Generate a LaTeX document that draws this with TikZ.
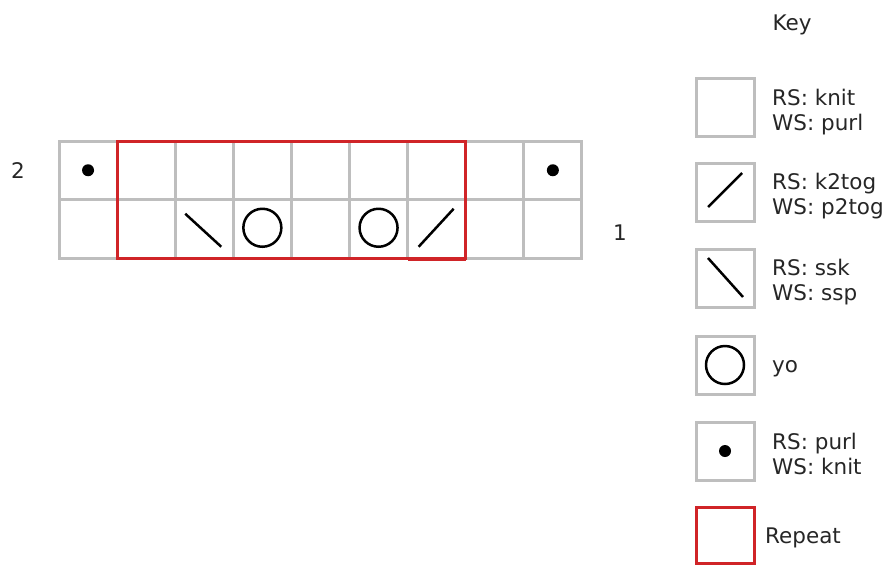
\documentclass[tikz,border=0pt]{standalone}
\usepackage{fontspec}
\setmainfont{DejaVu Sans}
\definecolor{gridgray}{RGB}{190,190,190}
\definecolor{repred}{RGB}{208,36,40}
\begin{document}
\begin{tikzpicture}[x=1pt,y=-1pt,
  cell/.style={draw=gridgray, line width=3pt, minimum width=58.1pt, minimum height=58.5pt, inner sep=0pt, outer sep=0pt},
  keybox/.style={draw=gridgray, line width=3pt, minimum width=58pt, minimum height=58pt, inner sep=0pt, outer sep=0pt},
  redbox/.style={draw=repred, line width=3pt},
  sym/.style={draw=black, line width=2.5pt},
  knitdot/.style={fill=black, circle, inner sep=0pt, minimum size=12pt},
  lbl/.style={font=\fontsize{21.5}{25}\selectfont, text=black!85, inner sep=0pt, align=left}
]
\useasboundingbox (0,0) rectangle (893,566);
% chart cells
\foreach \c in {1,...,9}{
  \node[cell] (r2c\c) at ({59+58.1*(\c-0.5)},170.25) {};
  \node[cell] (r1c\c) at ({59+58.1*(\c-0.5)},228.75) {};
}
% symbols in chart
\node[knitdot] (d1) at (r2c1.center) {};
\node[knitdot] (d2) at (r2c9.center) {};
\draw[sym] ([shift={(-19,-15)}]r1c3.center) -- ([shift={(17,18)}]r1c3.center);
\node[sym, circle, minimum size=38pt, inner sep=0pt] (yo1) at ([yshift=1]r1c4.center) {};
\node[sym, circle, minimum size=38pt, inner sep=0pt] (yo2) at ([yshift=1]r1c6.center) {};
\draw[sym] ([shift={(-18,18)}]r1c7.center) -- ([shift={(17,-20)}]r1c7.center);
% repeat box
\draw[redbox] (r2c2.north west) rectangle (r1c7.south east);
\draw[draw=repred, line width=4pt] ([yshift=-0.6]r1c7.south west) -- ([yshift=-0.6]r1c7.south east);
% row numbers
\node[lbl] (row2) at (18,171) {2};
\node[lbl] (row1) at (620,233) {1};
% key
\node[lbl] (keytitle) at (792,25) {Key};
\node[keybox] (k1) at (725,107) {};
\node[keybox] (k2) at (725,192) {};
\node[keybox] (k3) at (725,278) {};
\node[keybox] (k4) at (725,365) {};
\node[keybox] (k5) at (725,451) {};
\node[draw=repred, line width=3pt, minimum width=58pt, minimum height=56pt, inner sep=0pt] (k6) at (725,535) {};
\draw[sym] ([shift={(-17,15)}]k2.center) -- ([shift={(17,-19)}]k2.center);
\draw[sym] ([shift={(-17,-20)}]k3.center) -- ([shift={(18,19)}]k3.center);
\node[sym, circle, minimum size=38pt, inner sep=0pt] (kyo) at (k4.center) {};
\node[knitdot] (kdot) at (k5.center) {};
\node[lbl, anchor=west] (t1) at (772,112) {RS: knit\\WS: purl};
\node[lbl, anchor=west] (t2) at (772,196) {RS: k2tog\\WS: p2tog};
\node[lbl, anchor=west] (t3) at (772,282) {RS: ssk\\WS: ssp};
\node[lbl, anchor=west] (t4) at (772,369) {yo};
\node[lbl, anchor=west] (t5) at (772,454) {RS: purl\\WS: knit};
\node[lbl, anchor=west] (t6) at (765,538) {Repeat};
\end{tikzpicture}
\end{document}
